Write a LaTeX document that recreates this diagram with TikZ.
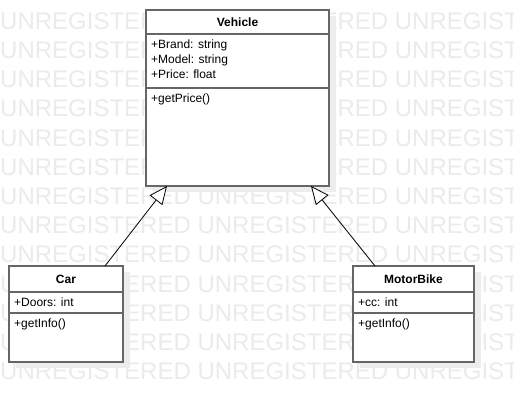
\documentclass[tikz,border=0pt]{standalone}
\usepackage{fontspec}
\setmainfont{Liberation Sans}
\usetikzlibrary{arrows.meta,positioning,calc,backgrounds}

\begin{document}
\begin{tikzpicture}[
x=1pt, y=1pt,
node distance=0pt,
part/.style={draw=black!60, line width=1.2pt, fill=white, inner sep=0pt, outer sep=0pt, minimum width=#1},
head/.style={part=#1, font=\bfseries\fontsize{12}{15}\selectfont},
members/.style={anchor=north west, align=left, inner xsep=5pt, inner ysep=6pt, font=\fontsize{12}{15}\selectfont},
inherit/.style={-{Triangle[length=18pt,width=16pt,fill=white]}, line width=0.8pt},
wmark/.style={anchor=west, inner sep=0pt, text=black!8, font=\fontsize{24}{24}\selectfont},
shade/.style={fill=black!7, draw=none}
]
\useasboundingbox (0,0) rectangle (514,-402);

% Vehicle
\node[head=183pt, minimum height=24pt] (vehicle) at (237.5,-22) {Vehicle};
\node[part=183pt, minimum height=54pt, below=of vehicle] (vehattr) {};
\node[part=183pt, minimum height=98pt, below=of vehattr] (vehmeth) {};
\node[members] (vehattrtxt) at (vehattr.north west) {+Brand: string\\+Model: string\\+Price: float};
\node[members] (vehmethtxt) at (vehmeth.north west) {+getPrice()};

% Car
\node[head=114pt, minimum height=26pt] (car) at (66,-279) {Car};
\node[part=114pt, minimum height=21pt, below=of car] (carattr) {};
\node[part=114pt, minimum height=49pt, below=of carattr] (carmeth) {};
\node[members] (carattrtxt) at (carattr.north west) {+Doors: int};
\node[members] (carmethtxt) at (carmeth.north west) {+getInfo()};

% MotorBike
\node[head=121pt, minimum height=26pt] (bike) at (413.5,-279) {MotorBike};
\node[part=121pt, minimum height=21pt, below=of bike] (bikeattr) {};
\node[part=121pt, minimum height=49pt, below=of bikeattr] (bikemeth) {};
\node[members] (bikeattrtxt) at (bikeattr.north west) {+cc: int};
\node[members] (bikemethtxt) at (bikemeth.north west) {+getInfo()};

\draw[inherit] ([xshift=39pt]car.north) -- ([xshift=-70.5pt]vehmeth.south);
\draw[inherit] ([xshift=-38.5pt]bike.north) -- ([xshift=73.5pt]vehmeth.south);

\begin{scope}[on background layer]
\clip (0,0) rectangle (514,-402);
\fill[white] (0,0) rectangle (514,-402);
\foreach \r in {0,...,12}
  \node[wmark] (wm\r) at (0,-21-29.2*\r) {UNREGISTERED UNREGISTERED UNREGISTERED};
\fill[shade] ($(vehicle.north west)+(7,-6)$) rectangle ($(vehmeth.south east)+(7,-6)$);
\fill[shade] ($(car.north west)+(7,-6)$) rectangle ($(carmeth.south east)+(7,-6)$);
\fill[shade] ($(bike.north west)+(7,-6)$) rectangle ($(bikemeth.south east)+(7,-6)$);
\end{scope}
\end{tikzpicture}
\end{document}
